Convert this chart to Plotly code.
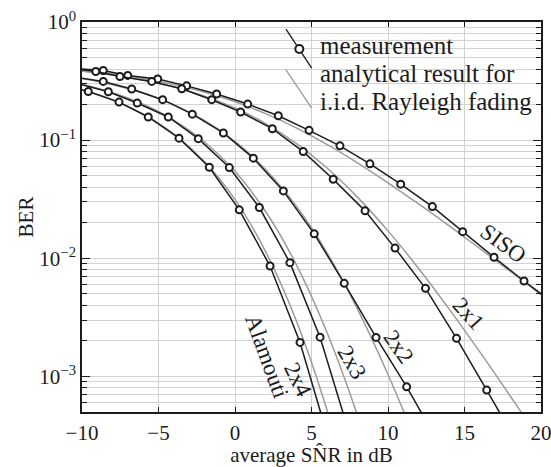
import plotly.graph_objects as go

# ---------------- data ----------------
# measured BER curves (markers + black lines)
siso_snr = [-10.6, -8.61, -7.01, -5.05, -3.16, -1.20, 0.83, 2.83, 4.84, 6.86, 8.82, 10.83, 12.90, 14.88, 16.93, 18.89, 20.9]
siso_ber = [0.405, 0.389, 0.353, 0.329, 0.288, 0.246, 0.202, 0.161, 0.121, 0.0895, 0.063, 0.0424, 0.0274, 0.0168, 0.0102, 0.00642, 0.0041]

tx2rx1_snr = [-11.1, -9.10, -7.52, -5.44, -3.48, -1.52, 0.37, 2.44, 4.46, 6.42, 8.50, 10.46, 12.45, 14.48, 16.45, 18.4]
tx2rx1_ber = [0.41, 0.381, 0.346, 0.314, 0.272, 0.220, 0.173, 0.125, 0.080, 0.0467, 0.0252, 0.0122, 0.00557, 0.0021, 0.000766, 0.00028]

tx2rx2_snr = [-10.6, -8.61, -6.75, -4.73, -2.79, -0.76, 1.20, 3.16, 5.18, 7.14, 9.22, 11.22, 13.2]
tx2rx2_ber = [0.344, 0.314, 0.271, 0.220, 0.166, 0.115, 0.0704, 0.0372, 0.0161, 0.00614, 0.00214, 0.000816, 0.00029]

tx2rx3_snr = [-10.3, -8.28, -6.39, -4.36, -2.40, -0.37, 1.59, 3.59, 5.56, 7.5]
tx2rx3_ber = [0.301, 0.257, 0.206, 0.157, 0.103, 0.0586, 0.0269, 0.00918, 0.00215, 0.00032]

tx2rx4_snr = [-11.6, -9.59, -7.58, -5.67, -3.66, -1.68, 0.28, 2.29, 4.25, 6.2]
tx2rx4_ber = [0.30, 0.258, 0.210, 0.157, 0.104, 0.059, 0.0257, 0.0086, 0.00194, 0.00027]

# analytical i.i.d. Rayleigh fading results (gray lines)
ana_snr = [-10, -8, -6, -4, -2, 0, 2, 4, 6, 8, 10, 12, 14, 16, 18, 20]
ana_siso = [0.391, 0.3645, 0.333, 0.2963, 0.2551, 0.2113, 0.1675, 0.1269, 0.0921, 0.0643, 0.04356, 0.02883, 0.01879, 0.0121, 0.00774, 0.00492]
ana_2x1 = [0.3838, 0.3555, 0.3213, 0.2812, 0.2357, 0.187, 0.1382, 0.0941, 0.0584, 0.03294, 0.01706, 0.008193, 0.003712, 0.001613, 0.00068, 0.000281]
ana_2x2 = [0.3332, 0.2944, 0.2494, 0.1992, 0.1469, 0.09753, 0.05641, 0.02767, 0.01123, 0.003736, 0.001039, 0.0002463, 5.16e-5]
ana_2x3 = [0.2969, 0.2518, 0.2013, 0.148, 0.097, 0.05445, 0.0249, 0.00889, 0.00238, 0.000471, 7.07e-5]
ana_2x4 = [0.2679, 0.2188, 0.1656, 0.1126, 0.0658, 0.0314, 0.0114, 0.002975, 0.000527, 6.2e-5]

x_ticks = [-10, -5, 0, 5, 10, 15, 20]
y_tickvals = [1, 0.1, 0.01, 0.001]
y_ticktext = ["10<sup>0</sup>", "10<sup>\u22121</sup>", "10<sup>\u22122</sup>", "10<sup>\u22123</sup>"]

curve_labels = ["SISO", "2x1", "2x2", "2x3", "2x4", "Alamouti"]
legend_texts = ["measurement", "analytical result for", "i.i.d. Rayleigh fading"]

# ---------------- figure ----------------
FONT = "Liberation Serif"
BLACK = "#1c1c1c"
GRAY = "#9b9b9b"
GRID = "#d2d2d2"

fig = go.Figure()

analytic = [ana_siso, ana_2x1, ana_2x2, ana_2x3, ana_2x4]
for ys in analytic:
    fig.add_trace(go.Scatter(x=ana_snr[:len(ys)], y=ys, mode="lines",
                             line=dict(color=GRAY, width=1.5, shape="spline"),
                             showlegend=False, hoverinfo="skip"))

measured = [(siso_snr, siso_ber), (tx2rx1_snr, tx2rx1_ber), (tx2rx2_snr, tx2rx2_ber),
            (tx2rx3_snr, tx2rx3_ber), (tx2rx4_snr, tx2rx4_ber)]
for xs, ys in measured:
    fig.add_trace(go.Scatter(x=xs, y=ys, mode="lines+markers",
                             line=dict(color=BLACK, width=1.5),
                             marker=dict(symbol="circle", size=7, color="white",
                                         line=dict(color=BLACK, width=2)),
                             showlegend=False))

minor_vals = [m * 10 ** e for e in range(-4, 0) for m in range(2, 10)]

fig.update_layout(
    width=551, height=467,
    margin=dict(l=82, r=10, t=22, b=55),
    paper_bgcolor="white", plot_bgcolor="white",
    font=dict(family=FONT, size=21, color=BLACK),
    showlegend=False,
    xaxis=dict(range=[-10, 20], tickvals=x_ticks, showgrid=True, gridcolor=GRID, gridwidth=1,
               zeroline=False, showline=True, linecolor=BLACK, linewidth=1.6, mirror="allticks",
               ticks="inside", ticklen=5, tickcolor=BLACK, tickfont=dict(size=21),
               ticklabelstandoff=1, ticklabeloverflow="allow", automargin=False,
               title=dict(text="average SN\u0302R in dB", font=dict(size=21), standoff=1)),
    yaxis=dict(type="log", range=[-3.30103, 0], tickvals=y_tickvals, ticktext=y_ticktext,
               showgrid=True, gridcolor=GRID, gridwidth=1, automargin=False,
               zeroline=False, showline=True, linecolor=BLACK, linewidth=1.6, mirror="allticks",
               ticks="inside", ticklen=8, tickcolor=BLACK, tickfont=dict(size=21),
               ticklabeloverflow="allow",
               minor=dict(tickvals=minor_vals, ticks="inside", ticklen=5, tickcolor=BLACK,
                          showgrid=True, gridcolor=GRID, gridwidth=1),
               title=dict(text="BER", font=dict(size=21), standoff=0)),
)

# legend (pointer lines + text)
shapes = [
    dict(type="line", xref="paper", yref="paper", x0=0.4444, y0=0.9820, x1=0.5004, y1=0.8820,
         line=dict(color=BLACK, width=1.3)),
    dict(type="line", xref="paper", yref="paper", x0=0.4444, y0=0.8770, x1=0.5004, y1=0.7793,
         line=dict(color=GRAY, width=1.3)),
    dict(type="circle", xref="paper", yref="paper", xsizemode="pixel", ysizemode="pixel",
         xanchor=0.4735, yanchor=0.9307, x0=-4, x1=4, y0=-4, y1=4,
         fillcolor="white", line=dict(color=BLACK, width=2)),
]
fig.update_layout(shapes=shapes)

ann = []
for txt, yp in zip(legend_texts, [0.9392, 0.8673, 0.7955]):
    ann.append(dict(text=txt, xref="paper", yref="paper", x=0.5142, y=yp, xanchor="left",
                    yanchor="middle", showarrow=False, font=dict(size=25, color=BLACK, family=FONT)))

label_pos = [(0.9172, 0.4311, 36), (0.8410, 0.2515, 48), (0.6885, 0.1668, 55),
             (0.5876, 0.1257, 60), (0.4695, 0.0821, 64), (0.4024, 0.1419, 70)]
for txt, (xp, yp, ang) in zip(curve_labels, label_pos):
    ann.append(dict(text=txt, xref="paper", yref="paper", x=xp, y=yp, xanchor="center",
                    yanchor="middle", textangle=ang, showarrow=False,
                    font=dict(size=23, color=BLACK, family=FONT)))
fig.update_layout(annotations=ann)

fig.write_html("out.html", config={"displayModeBar": False},
               post_script="document.body.style.margin='0';document.body.style.overflow='hidden';")
